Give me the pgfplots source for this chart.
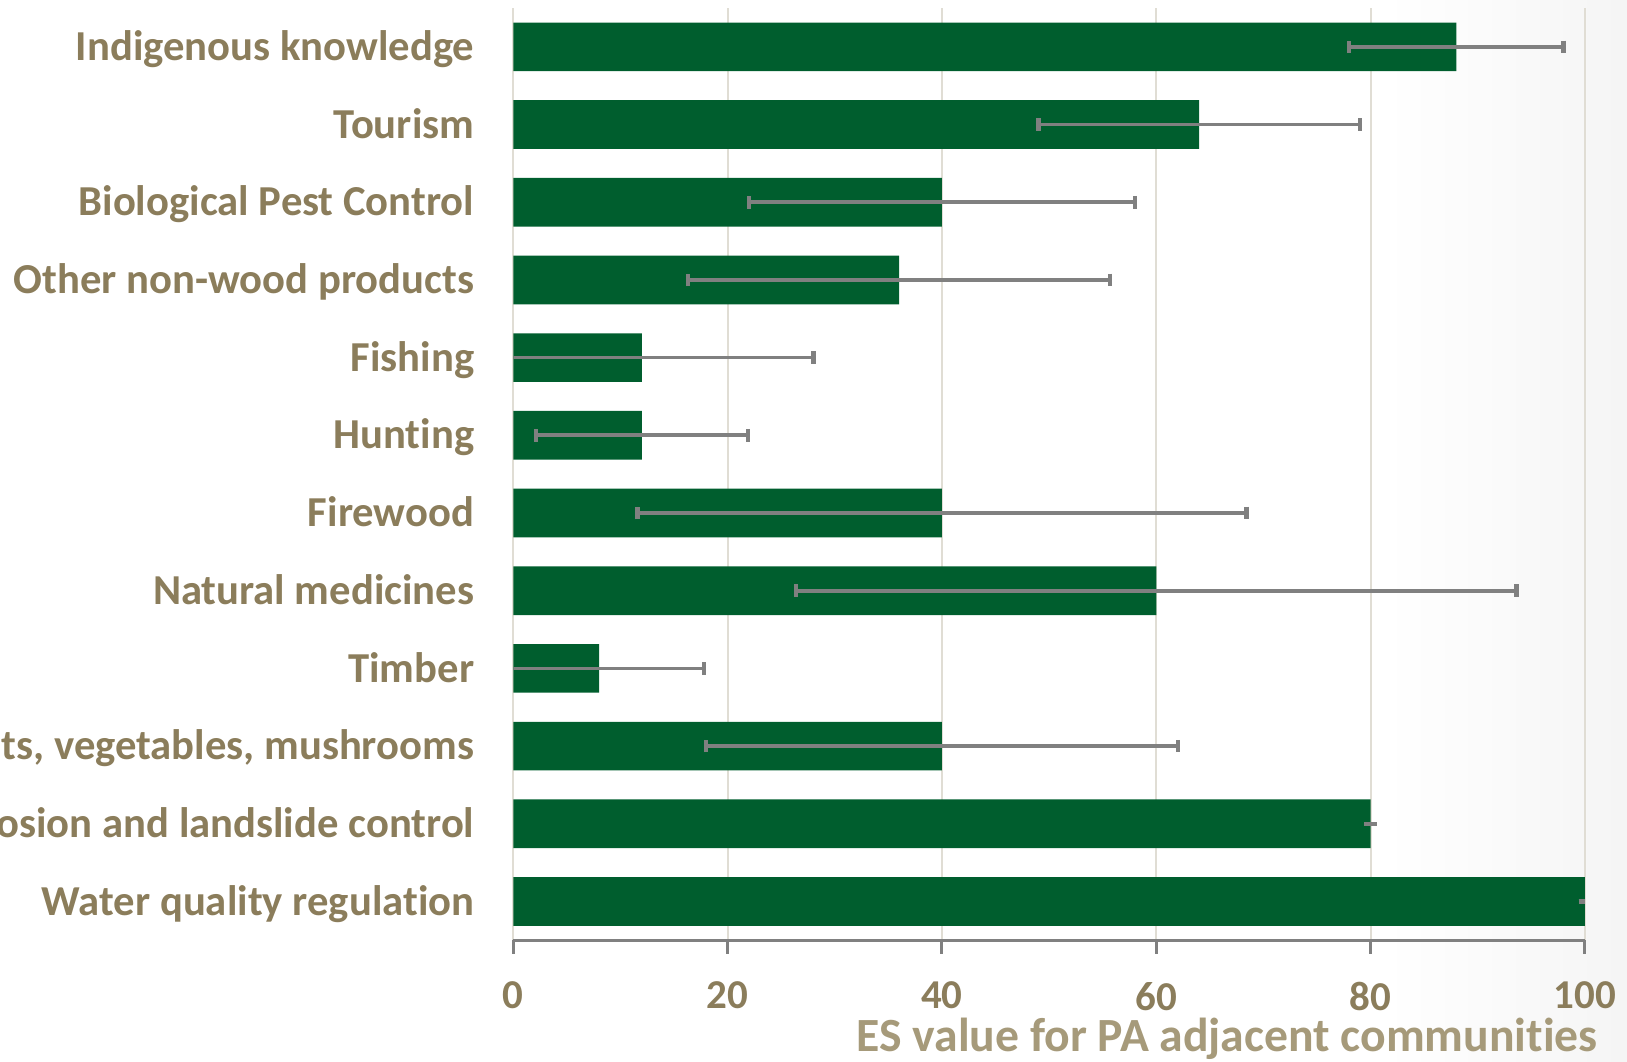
\documentclass[border=0pt]{standalone}
\usepackage{fontspec}
\setmainfont{Carlito}[Ligatures={NoCommon}]
\usepackage{pgfplots}
\pgfplotsset{compat=1.18}
\usetikzlibrary{backgrounds}

\definecolor{labelcol}{RGB}{139,125,91}
\definecolor{xlabcol}{RGB}{166,154,122}
\definecolor{barcol}{RGB}{0,94,46}
\definecolor{errcol}{RGB}{128,128,128}
\definecolor{gridcol}{RGB}{224,221,212}
\definecolor{axcol}{RGB}{128,128,128}

\begin{document}
\begin{tikzpicture}
\begin{axis}[
  name=ax,
  scale only axis,
  width=321.5pt, height=279.7pt,
  xbar,
  bar width=14.6pt,
  xmin=0, xmax=100,
  ymin=-0.5, ymax=11.5,
  xtick={0,20,40,60,80,100},
  ytick={0,...,11},
  yticklabels={Water quality regulation, Erosion and landslide control, {Fruits, vegetables, mushrooms}, Timber, Natural medicines, Firewood, Hunting, Fishing, Other non-wood products, Biological Pest Control, Tourism, Indigenous knowledge},
  axis x line*=bottom,
  axis y line*=left,
  x axis line style={-, draw=axcol, line width=0.9pt},
  y axis line style={draw=none},
  xtick style={draw=axcol, line width=0.9pt},
  ytick style={draw=none},
  tick align=outside,
  major tick length=4pt,
  xmajorgrids=true,
  grid style={draw=gridcol, line width=0.6pt},
  /pgf/number format/assume math mode=true,
  xticklabel style={font=\fontsize{12.3}{14}\selectfont\bfseries, text=labelcol, yshift=-5pt},
  yticklabel style={font=\fontsize{12.8}{15}\selectfont\bfseries, text=labelcol, anchor=east, text height=8.2pt, text depth=0pt, xshift=-4.2pt},
  xlabel={ES value for PA adjacent communities},
  xlabel style={font=\fontsize{14.3}{16}\selectfont\bfseries, text=xlabcol, at={(rel axis cs:1.023,0)}, anchor=base east, yshift=-33.5pt},
]
\addplot[fill=barcol, draw=none,
  error bars/.cd, x dir=both, x explicit,
  error bar style={draw=errcol, line width=1.1pt},
  error mark options={draw=errcol, line width=1.3pt, mark size=1.9pt, rotate=90}]
coordinates {
  (100,0) +- (0,0)
  (80,1) +- (0,0)
  (40,2) +- (22,0)
  (8,3) +- (9.8,0)
  (60,4) +- (33.6,0)
  (40,5) +- (28.4,0)
  (12,6) +- (9.9,0)
  (12,7) +- (16,0)
  (36,8) +- (19.7,0)
  (40,9) +- (18,0)
  (64,10) +- (15,0)
  (88,11) +- (10,0)
};
\end{axis}
\begin{scope}[on background layer]
  \shade[left color=white, right color=black!4]
    ([shift={(-60pt,0pt)}]ax.south east |- 0,-36.5pt) rectangle ([shift={(12.6pt,2.4pt)}]ax.north east);
\end{scope}
\pgfresetboundingbox
\useasboundingbox ([shift={(-154pt,-36.5pt)}]ax.south west) rectangle ([shift={(12.6pt,2.4pt)}]ax.north east);
\end{tikzpicture}
\end{document}
